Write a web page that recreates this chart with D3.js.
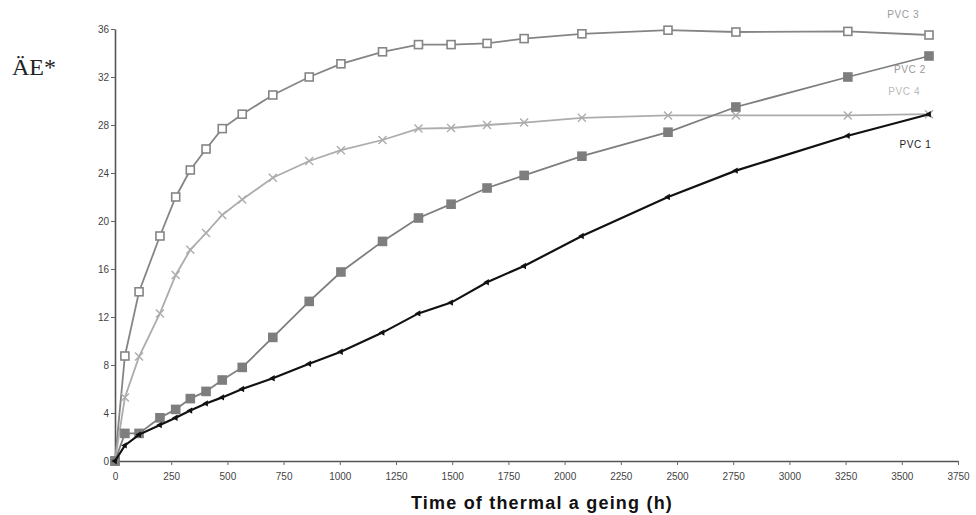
<!DOCTYPE html>
<html lang="en">
  <head>
    <meta charset="UTF-8" />
    <title>Thermal ageing of PVC</title>
    <script src="https://d3js.org/d3.v7.min.js"></script>
    <style>
      body {
        margin: 0;
        background: #fff;
        font-family: Arial, "Liberation Sans", sans-serif;
      }
      .tick text {
        font-size: 10px;
        fill: #444;
      }
    </style>
  </head>
  <body>
    <svg id="chart" width="976" height="515"></svg>

    <script>
      // sampling times (h), shared by all four samples
      const hours = [0, 44, 107, 200, 270, 335, 405, 477, 566, 702, 864, 1005,
        1190, 1350, 1495, 1655, 1820, 2077, 2460, 2762, 3260, 3621];

      // colour difference values
      const pvc1 = [0, 1.3, 2.2, 3.0, 3.6, 4.2, 4.8, 5.3, 6.0, 6.9, 8.1, 9.1,
        10.7, 12.3, 13.2, 14.9, 16.25, 18.75, 22.0, 24.2, 27.1, 28.9];
      const pvc2 = [0, 2.3, 2.3, 3.6, 4.3, 5.2, 5.8, 6.75, 7.8, 10.3, 13.3, 15.75,
        18.3, 20.25, 21.4, 22.75, 23.8, 25.4, 27.4, 29.5, 32.0, 33.75];
      const pvc3 = [0, 8.75, 14.1, 18.75, 22.0, 24.25, 26.0, 27.7, 28.9, 30.5, 32.0,
        33.1, 34.1, 34.7, 34.7, 34.8, 35.2, 35.6, 35.9, 35.75, 35.8, 35.5];
      const pvc4 = [0, 5.3, 8.7, 12.3, 15.5, 17.6, 19.0, 20.5, 21.8, 23.6, 25.0,
        25.9, 26.75, 27.7, 27.75, 28.0, 28.2, 28.6, 28.8, 28.8, 28.8, 28.9];

      const xTicks = d3.range(0, 3751, 250);
      const yTicks = d3.range(0, 37, 4);

      const svg = d3.select("#chart");
      const margin = { top: 29, right: 18, bottom: 54, left: 115 };
      const width = 976 - margin.left - margin.right,
        height = 515 - margin.top - margin.bottom;

      const x = d3.scaleLinear().domain([0, 3750]).range([0, width]);
      const y = d3.scaleLinear().domain([0, 36]).range([height, 0]);

      const g = svg
        .append("g")
        .attr("transform", `translate(${margin.left},${margin.top})`);

      // axes
      const xAxis = g
        .append("g")
        .attr("transform", `translate(0,${height})`)
        .call(
          d3.axisBottom(x).tickValues(xTicks).tickFormat(d3.format("d"))
            .tickSize(4).tickPadding(8).tickSizeOuter(0)
        );
      const yAxis = g
        .append("g")
        .call(d3.axisLeft(y).tickValues(yTicks).tickSize(4).tickPadding(2).tickSizeOuter(0));
      [xAxis, yAxis].forEach((a) => {
        a.select(".domain").attr("stroke", "#555").attr("stroke-width", 1.6);
        a.selectAll(".tick line").attr("stroke", "#666");
      });

      const series = [
        { name: "PVC 3", values: pvc3, color: "#858585", marker: "open" },
        { name: "PVC 4", values: pvc4, color: "#acacac", marker: "cross" },
        { name: "PVC 2", values: pvc2, color: "#7e7e7e", marker: "filled" },
        { name: "PVC 1", values: pvc1, color: "#111", marker: "triangle" },
      ];

      const line = d3
        .line()
        .x((d) => x(d[0]))
        .y((d) => y(d[1]));

      series.forEach((s) => {
        const pts = hours.map((h, i) => [h, s.values[i]]);
        g.append("path")
          .datum(pts)
          .attr("fill", "none")
          .attr("stroke", s.color)
          .attr("stroke-width", s.marker === "triangle" ? 2.2 : 1.8)
          .attr("d", line);

        const m = g
          .selectAll(null)
          .data(pts)
          .enter()
          .append("g")
          .attr("transform", (d) => `translate(${x(d[0])},${y(d[1])})`);

        if (s.marker === "open" || s.marker === "filled") {
          m.append("rect")
            .attr("x", -4)
            .attr("y", -4)
            .attr("width", 8)
            .attr("height", 8)
            .attr("fill", s.marker === "open" ? "#fff" : s.color)
            .attr("stroke", s.color)
            .attr("stroke-width", 1.6);
        } else if (s.marker === "cross") {
          m.append("path")
            .attr("d", "M-4,-4L4,4M-4,4L4,-4")
            .attr("stroke", s.color)
            .attr("stroke-width", 1.4);
        } else {
          m.append("path")
            .attr("d", d3.symbol(d3.symbolTriangle, 18)())
            .attr("transform", "rotate(-90)")
            .attr("fill", s.color);
        }
      });

      // series labels
      const labels = [
        { text: "PVC 3", t: 3435, v: 37.2, color: "#999" },
        { text: "PVC 2", t: 3465, v: 32.6, color: "#999" },
        { text: "PVC 4", t: 3440, v: 30.8, color: "#bbb" },
        { text: "PVC 1", t: 3490, v: 26.4, color: "#222" },
      ];
      g.selectAll(".lbl")
        .data(labels)
        .enter()
        .append("text")
        .attr("class", "lbl")
        .attr("x", (d) => x(d.t))
        .attr("y", (d) => y(d.v))
        .attr("dy", "0.35em")
        .attr("font-size", 10)
        .attr("letter-spacing", 0.6)
        .attr("fill", (d) => d.color)
        .text((d) => d.text);

      // axis titles
      svg.append("text")
        .attr("x", 12)
        .attr("y", 75)
        .attr("font-family", "'Liberation Serif', 'DejaVu Serif', serif")
        .attr("font-size", 24)
        .attr("fill", "#222")
        .text("ÄE*");

      svg.append("text")
        .attr("x", 542)
        .attr("y", 509)
        .attr("text-anchor", "middle")
        .attr("font-size", 18)
        .attr("font-weight", "bold")
        .attr("letter-spacing", 1.2)
        .attr("fill", "#111")
        .text("Time of thermal a geing (h)");
    </script>
  </body>
</html>
